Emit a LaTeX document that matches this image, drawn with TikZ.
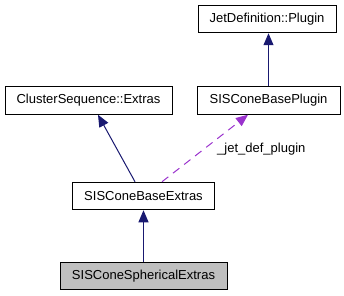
\documentclass[tikz,border=0pt]{standalone}
\usepackage{fontspec}
\setmainfont{Liberation Sans}
\usetikzlibrary{arrows.meta,calc}
\definecolor{edgeblue}{HTML}{191970}
\definecolor{edgepurple}{HTML}{9A32CD}
\definecolor{boxgray}{HTML}{BFBFBF}
\begin{document}
\begin{tikzpicture}[x=1pt,y=-1pt,
  cls/.style={draw=black,line width=1pt,fill=white,inner sep=0pt,
    minimum height=27.5pt,font=\fontsize{13}{15}\selectfont},
  inh/.style={draw=edgeblue,line width=1pt,-{Triangle[length=12pt,width=10pt,fill=edgeblue]}},
  usage/.style={draw=edgepurple,line width=1pt,dash pattern=on 8pt off 6pt,
    -{Triangle[length=12pt,width=10pt,fill=edgepurple]}},
  lbl/.style={font=\fontsize{13}{15}\selectfont,inner sep=0pt}]
\useasboundingbox (0,0) rectangle (344,296);
\node[cls,minimum width=138pt] (jet) at (267,19) {JetDefinition::Plugin};
\node[cls,minimum width=167pt] (cse) at (88.5,100.5) {ClusterSequence::Extras};
\node[cls,minimum width=143pt] (scbp) at (268.5,100.5) {SISConeBasePlugin};
\node[cls,minimum width=142pt] (scbe) at (143.5,196) {SISConeBaseExtras};
\node[cls,minimum width=167pt,fill=boxgray] (scse) at (143.5,276) {SISConeSphericalExtras};
\draw[inh] (scbp.north) -- (scbp.north |- jet.south);
\draw[inh] ($(scbe.north)+(-8.5,0)$) -- ($(cse.south)+(9.5,0)$);
\draw[usage] ($(scbe.north)+(18.5,0)$) -- ($(scbp.south)+(-20.5,0)$);
\draw[inh] (scse.north) -- (scbe.south);
\node[lbl,anchor=base west] (lab) at (217,152) {\_jet\_def\_plugin};
\end{tikzpicture}
\end{document}
